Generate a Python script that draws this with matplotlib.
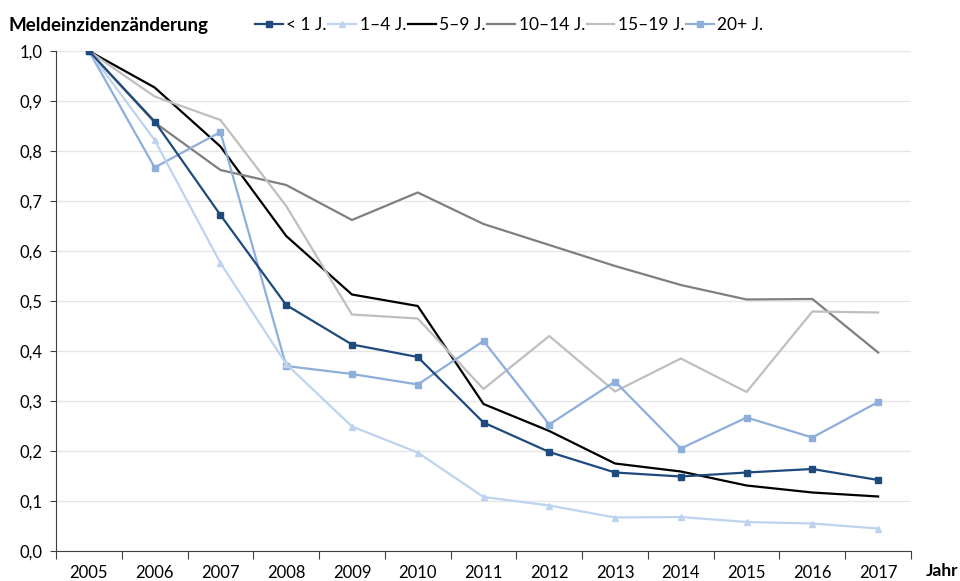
import matplotlib
matplotlib.use('Agg')
import matplotlib.pyplot as plt
from matplotlib.ticker import MultipleLocator, FixedLocator, NullFormatter

YEARS = ['2005', '2006', '2007', '2008', '2009', '2010', '2011',
         '2012', '2013', '2014', '2015', '2016', '2017']

LT1   = [1.0, 0.859, 0.672, 0.492, 0.413, 0.388, 0.257, 0.198, 0.157, 0.149, 0.157, 0.164, 0.142]
Y1_4  = [1.0, 0.822, 0.576, 0.374, 0.249, 0.197, 0.108, 0.091, 0.067, 0.068, 0.058, 0.055, 0.045]
Y5_9  = [1.0, 0.927, 0.809, 0.630, 0.513, 0.490, 0.294, 0.240, 0.175, 0.159, 0.131, 0.117, 0.109]
Y10_14 = [1.0, 0.857, 0.762, 0.732, 0.662, 0.717, 0.654, 0.612, 0.570, 0.532, 0.503, 0.504, 0.397]
Y15_19 = [1.0, 0.909, 0.862, 0.690, 0.473, 0.465, 0.324, 0.430, 0.319, 0.385, 0.318, 0.479, 0.477]
Y20P  = [1.0, 0.767, 0.838, 0.370, 0.354, 0.333, 0.420, 0.253, 0.339, 0.205, 0.267, 0.227, 0.298]

LABELS = ['< 1 J.', '1\u20134 J.', '5\u20139 J.', '10\u201314 J.', '15\u201319 J.', '20+ J.']

plt.rcParams['font.family'] = ['Lato', 'DejaVu Sans']

fig = plt.figure(figsize=(9.6, 5.81), dpi=100)
ax = fig.add_axes([56 / 960, 30 / 581, 855 / 960, 500 / 581])

x = range(len(YEARS))
# greys first, blues on top
l5, = ax.plot(x, Y5_9, color='black', lw=1.6, zorder=3)
l10, = ax.plot(x, Y10_14, color='#7f7f7f', lw=1.6, zorder=3)
l15, = ax.plot(x, Y15_19, color='#bfbfbf', lw=1.6, zorder=3)
l20, = ax.plot(x, Y20P, color='#8eaedb', lw=1.6, marker='s', ms=4, zorder=4)
l4, = ax.plot(x, Y1_4, color='#bdd3ee', lw=1.6, marker='^', ms=4, zorder=4)
l1, = ax.plot(x, LT1, color='#1f4a7e', lw=1.6, marker='s', ms=5, zorder=5)

ax.set_xlim(-0.5, len(YEARS) - 0.5)
ax.set_ylim(0, 1.0)

ax.yaxis.set_major_locator(MultipleLocator(0.1))
ax.set_yticklabels([('%.1f' % v).replace('.', ',') for v in ax.get_yticks()])
ax.grid(axis='y', color='#e6e6e6', lw=1, zorder=0)

ax.xaxis.set_major_locator(FixedLocator([i - 0.5 for i in range(len(YEARS) + 1)]))
ax.xaxis.set_major_formatter(NullFormatter())
ax.xaxis.set_minor_locator(FixedLocator(list(x)))
ax.set_xticklabels(YEARS, minor=True)
ax.tick_params(axis='x', which='major', length=6, width=0.8, color='#404040')
ax.tick_params(axis='x', which='minor', length=0, pad=10, labelsize=12)
ax.tick_params(axis='y', length=4, width=0.8, color='#404040', labelsize=12, pad=6)

for s in ['top', 'right']:
    ax.spines[s].set_visible(False)
ax.spines['left'].set_color('#404040')
ax.spines['bottom'].set_color('#404040')

fig.text(8 / 960, 1 - 25 / 581, 'Meldeinzidenzänderung', fontsize=13.5,
         fontweight='bold', va='center', ha='left')
fig.text(926 / 960, 1 - 571 / 581, 'Jahr', fontsize=12.5, fontweight='bold',
         va='center', ha='left')

fig.legend([l1, l4, l5, l10, l15, l20], LABELS, loc='center left',
           bbox_to_anchor=(255 / 960, 1 - 25 / 581), ncol=6, frameon=False,
           handlelength=1.6, handletextpad=0.2, columnspacing=0.1,
           fontsize=12.5, borderaxespad=0, borderpad=0)

fig.savefig('out.png', dpi=100)
